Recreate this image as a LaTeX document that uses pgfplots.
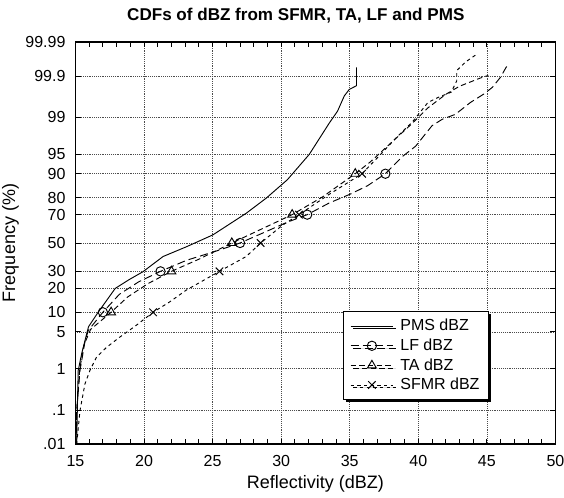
\documentclass[border=0pt]{standalone}
\usepackage{fontspec}
\setmainfont{Liberation Sans}
\usepackage{pgfplots}
\pgfplotsset{compat=1.18}
\usetikzlibrary{calc,shadows}

% probit scale: y values are standard normal quantiles of the cumulative frequency
\begin{document}
\begin{tikzpicture}
\begin{axis}[
  name=ax,
  scale only axis, width=360pt, height=301.5pt,
  xmin=15, xmax=50, ymin=-3.719, ymax=3.719,
  xtick={15,20,...,50}, minor x tick num=4,
  ytick={-3.719,-3.090,-2.326,-1.645,-1.2816,-0.8416,-0.5244,0,0.5244,0.8416,1.2816,1.645,2.326,3.090,3.719},
  yticklabels={.01,.1,1,5,10,20,30,50,70,80,90,95,99,99.9,99.99},
  tick align=inside, major tick length=4pt, minor tick length=4pt,
  tick style={black, line width=0.6pt},
  axis line style={line width=0.8pt},
  grid=major, grid style={densely dotted, black!70, line width=0.5pt},
  /pgf/number format/assume math mode=true,
  tick label style={font=\fontsize{12}{14}\selectfont},
  xticklabel style={yshift=-5pt},
  yticklabel style={xshift=-4pt},
  label style={font=\fontsize{13.5}{16}\selectfont},
  xlabel={Reflectivity (dBZ)}, ylabel={Frequency (\%)},
  xlabel style={yshift=0pt},
  ylabel style={yshift=-2pt},
  title={\bfseries CDFs of dBZ from SFMR, TA, LF and PMS},
  title style={font=\fontsize{12.8}{15}\selectfont, at={(0.459,1)}, anchor=center, yshift=14pt},
  legend style={at={(0.862,0.109)}, anchor=south east, draw=black, fill=white,
    line width=0.6pt, font=\fontsize{12}{14}\selectfont,
    drop shadow={shadow xshift=2pt, shadow yshift=-2pt, fill=black, opacity=1},
    row sep=0.5pt, inner xsep=5pt, inner ysep=4pt,
    /tikz/every odd column/.append style={column sep=3pt}},
  legend cell align=left,
  legend image code/.code={\draw[mark repeat=2,mark phase=2,#1] plot coordinates {(0pt,0pt)(16pt,0pt)(32pt,0pt)};},
]
% PMS
\addplot[black, line width=0.7pt, forget plot] coordinates {
  (15.09,-3.72) (15.12,-3.3) (15.15,-2.9) (15.2,-2.36) (15.45,-2.05) (15.7,-1.8) (15.95,-1.55)
  (16.66,-1.28) (17.9,-0.84) (18.9,-0.68) (19.93,-0.53) (21.39,-0.25) (23.09,-0.07)
  (25.02,0.15) (27.45,0.55) (28.91,0.83) (30.45,1.17) (32.05,1.64) (33.51,2.22)
  (34.11,2.44) (34.60,2.72) (34.96,2.84) (35.49,2.91) (35.49,3.25)};
% LF
\addplot[black, line width=0.7pt, dash pattern=on 6pt off 3pt, forget plot] coordinates {
  (15.04,-3.72) (15.09,-3.1) (15.33,-2.36) (15.69,-1.83) (15.93,-1.62) (17.0,-1.2816)
  (18.2,-0.95) (19.6,-0.72) (21.2,-0.5244) (23.1,-0.32) (25.5,-0.13) (27.0,0)
  (28.8,0.2) (30.4,0.38) (31.9,0.5244) (33.5,0.74) (35.0,0.9) (36.3,1.06) (37.6,1.2816)
  (38.84,1.60) (39.8,1.79) (41.0,2.17) (41.75,2.29) (42.7,2.38) (43.8,2.60) (44.8,2.76)
  (45.4,2.88) (46.0,3.07) (46.4,3.25) (46.6,3.31)};
% TA
\addplot[black, line width=0.7pt, dash pattern=on 4pt off 2.5pt, forget plot] coordinates {
  (15.04,-3.72) (15.1,-3.1) (15.3,-2.36) (15.6,-1.9) (16.1,-1.6) (17.6,-1.2816)
  (18.8,-1.0) (20.3,-0.75) (22.0,-0.5244) (24.0,-0.3) (26.4,0) (28.5,0.25)
  (30.8,0.5244) (33.0,0.85) (35.4,1.2816) (36.5,1.5) (38.0,1.85) (39.5,2.2)
  (40.7,2.5) (42.0,2.75) (43.0,2.9) (44.5,3.05) (45.1,3.1)};
% SFMR
\addplot[black, line width=0.7pt, dash pattern=on 2.5pt off 2.5pt, forget plot] coordinates {
  (15.09,-3.72) (15.33,-3.1) (15.69,-2.61) (16.05,-2.36) (16.54,-2.11) (17.27,-1.93)
  (18.24,-1.74) (19.45,-1.52) (20.66,-1.2816) (21.87,-1.09) (23.09,-0.87) (23.93,-0.75)
  (25.5,-0.5244) (27.45,-0.25) (28.5,0) (30.1,0.33) (31.3,0.5244) (33.5,0.9)
  (35.9,1.2816) (37.1,1.6) (38.4,1.95) (39.6,2.25) (40.7,2.6) (41.5,2.7) (42.4,2.79)
  (42.8,3.0) (42.8,3.19) (43.45,3.35) (44.3,3.5)};
% markers at 10, 30, 50, 70, 90 %
\addplot[only marks, mark=o, mark size=3.5pt, black, line width=0.7pt, forget plot] coordinates {
  (17.0,-1.2816) (21.2,-0.5244) (27.0,0) (31.9,0.5244) (37.6,1.2816)};
\addplot[only marks, mark=triangle, mark size=3.8pt, black, line width=0.7pt, forget plot] coordinates {
  (17.6,-1.2816) (22.0,-0.5244) (26.4,0) (30.8,0.5244) (35.4,1.2816)};
\addplot[only marks, mark=x, mark size=4pt, black, line width=0.7pt, forget plot] coordinates {
  (20.66,-1.2816) (25.5,-0.5244) (28.5,0) (31.3,0.5244) (35.9,1.2816)};
\addlegendimage{black, line width=0.7pt}
\addlegendentry{PMS dBZ}
\addlegendimage{black, line width=0.7pt, dash pattern=on 6pt off 3pt, mark=o, mark size=3.5pt, mark options={solid}}
\addlegendentry{LF dBZ}
\addlegendimage{black, line width=0.7pt, dash pattern=on 4pt off 2.5pt, mark=triangle, mark size=3.8pt, mark options={solid}}
\addlegendentry{TA dBZ}
\addlegendimage{black, line width=0.7pt, dash pattern=on 2.5pt off 2.5pt, mark=x, mark size=4pt, mark options={solid}}
\addlegendentry{SFMR dBZ}
\coordinate (bl) at (rel axis cs:0,0);
\coordinate (tr) at (rel axis cs:1,1);
\end{axis}
\pgfresetboundingbox
\path[use as bounding box] ($(bl)+(-56.6pt,-40.5pt)$) rectangle ($(tr)+(6.4pt,31.5pt)$);
\end{tikzpicture}
\end{document}
